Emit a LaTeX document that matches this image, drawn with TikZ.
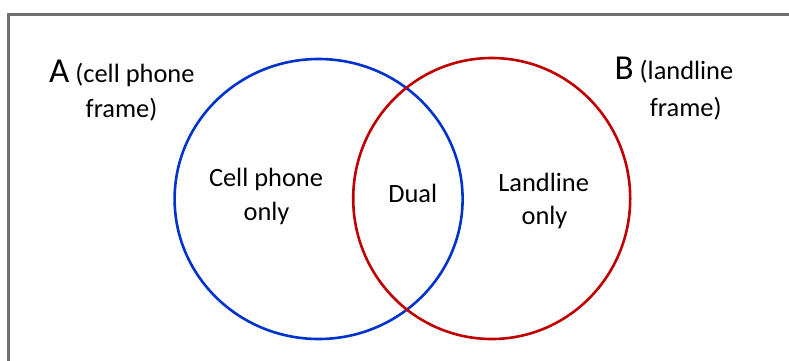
\documentclass[tikz,border=0pt]{standalone}
\usepackage{fontspec}
\setmainfont{Carlito}
\definecolor{setA}{HTML}{0033CC}
\definecolor{setB}{HTML}{C00000}
\definecolor{framegray}{HTML}{707070}
\begin{document}
\begin{tikzpicture}[x=1pt,y=-1pt,
  lbl/.style={inner sep=0pt,anchor=base,font=\fontsize{26.4}{32}\selectfont},
  lblw/.style={inner sep=0pt,anchor=base west,font=\fontsize{26.4}{32}\selectfont},
  big/.style={font=\fontsize{35}{40}\selectfont},
  setline/.style={line width=2.6pt}]
\useasboundingbox (0,0) rectangle (789,360);
% outer frame (open to the right and bottom)
\coordinate (fbl) at (8.5,362);
\coordinate (ftl) at (8.5,14.5);
\coordinate (ftr) at (791,14.5);
\draw[framegray,line width=2.2pt] (fbl) -- (ftl) -- (ftr);
% the two sets
\draw[setA,setline] (318.6,199) ellipse [x radius=144, y radius=140];
\draw[setB,setline] (491.7,198.5) ellipse [x radius=138.5, y radius=140.5];
% set names
\node[lblw] (aname) at (49,82.7) {{\fontsize{35}{40}\selectfont A} (cell phone};
\node[lbl] (aname2) at (121.5,117) {frame)};
\node[lblw] (bname) at (614.5,79.3) {{\fontsize{35}{40}\selectfont B} (landline};
\node[lbl] (bname2) at (685.7,116.7) {frame)};
% regions
\node[lbl] (cell1) at (266,186.7) {Cell phone};
\node[lbl] (cell2) at (266.5,220) {only};
\node[lbl] (dual) at (412.8,202.3) {Dual};
\node[lbl] (land1) at (543.7,191.7) {Landline};
\node[lbl] (land2) at (544.5,224) {only};
\end{tikzpicture}
\end{document}
